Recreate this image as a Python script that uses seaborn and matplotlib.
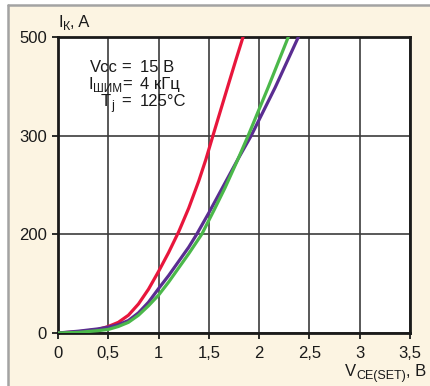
import matplotlib.pyplot as plt
import matplotlib.patches as mpatches
from matplotlib.lines import Line2D
import numpy as np
import pandas as pd
import seaborn as sns

sns.set_theme(style='white')
plt.rcParams['font.family'] = ['Liberation Sans Narrow', 'Liberation Sans', 'DejaVu Sans']

# curves: V_CE (V) and I_K (A)
v_red = [0.0, 0.2, 0.4, 0.5, 0.6, 0.7, 0.8, 0.9, 1.0, 1.1, 1.2, 1.3, 1.4, 1.47, 1.54, 1.62, 1.7, 1.77, 1.84]
i_red = [0, 2, 6, 11, 18, 30, 49, 74, 104, 136, 171, 211, 257, 293, 333, 378, 423, 462, 500]

v_purple = [0.0, 0.2, 0.4, 0.5, 0.6, 0.7, 0.8, 0.9, 1.0, 1.1, 1.2, 1.3, 1.38, 1.5, 1.65, 1.8, 1.92, 2.16, 2.39]
i_purple = [0, 3, 7, 10, 14, 21, 34, 52, 75, 97, 121, 145, 167, 203, 250, 297, 333, 415, 500]

v_green = [0.0, 0.2, 0.4, 0.5, 0.6, 0.7, 0.8, 0.9, 1.0, 1.1, 1.2, 1.3, 1.43, 1.55, 1.66, 1.78, 1.89, 2.09, 2.29]
i_green = [0, 1, 4, 6, 11, 18, 30, 46, 64, 86, 110, 134, 167, 207, 245, 290, 333, 415, 500]

curve_names = ['red', 'purple', 'green']
curve_colors = ['#E8163C', '#5A2D91', '#4BB84A']

x_ticks = [0, 0.5, 1, 1.5, 2, 2.5, 3, 3.5]
x_tick_labels = ['0', '0,5', '1', '1,5', '2', '2,5', '3', '3,5']
y_tick_labels = ['0', '200', '300', '500']

df = pd.concat([
    pd.DataFrame({'v': v_red, 'i': i_red, 'curve': 'red'}),
    pd.DataFrame({'v': v_purple, 'i': i_purple, 'curve': 'purple'}),
    pd.DataFrame({'v': v_green, 'i': i_green, 'curve': 'green'}),
], ignore_index=True)

W, H = 430, 386


def px(x, y):
    return x / W, 1 - y / H


fig = plt.figure(figsize=(W / 100, H / 100), dpi=100, facecolor='white')
fig.add_artist(mpatches.Rectangle(px(9, H), (W - 9) / W, (H - 6) / H,
                                  transform=fig.transFigure, facecolor='#FCF4E2',
                                  edgecolor='none', zorder=-10))
fig.add_artist(Line2D([px(8, 5)[0], 1], [px(8, 5)[1]] * 2, transform=fig.transFigure,
                      color='#A3A3A3', lw=1.8))
fig.add_artist(Line2D([px(8, 5)[0]] * 2, [px(8, 5)[1], 0], transform=fig.transFigure,
                      color='#A3A3A3', lw=1.8))

left, bottom = px(58, 333)
right, top = px(410, 37)
ax = fig.add_axes([left, bottom, right - left, top - bottom])
ax.set_facecolor('white')

sns.lineplot(data=df, x='v', y='i', hue='curve', hue_order=curve_names,
             palette=dict(zip(curve_names, curve_colors)), sort=False,
             estimator=None, lw=2.3, legend=False, ax=ax, zorder=3)

ax.set_xlim(0, 3.5)
ax.set_ylim(0, 500)
ax.set_xticks(x_ticks)
ax.set_xticklabels(x_tick_labels)
ax.set_yticks(np.linspace(0, 500, len(y_tick_labels)))
ax.set_yticklabels(y_tick_labels)
ax.set_xlabel('')
ax.set_ylabel('')
ax.grid(True, color='#3C3C3C', lw=1.2)
ax.set_axisbelow(True)
for s in ax.spines.values():
    s.set_color('#1A1A1A')
    s.set_linewidth(2)
ax.tick_params(axis='both', which='major', direction='out', length=4, width=1.3,
               color='#1A1A1A', labelsize=12, labelcolor='#1A1A1A', pad=4,
               left=True, bottom=True)
ax.tick_params(axis='x', pad=5)

tc = '#1A1A1A'
renderer = fig.canvas.get_renderer()


def chain(x0, yb, parts):
    # lay text pieces side by side: (text, fontsize, baseline shift in px)
    x = x0
    for txt, size, dy in parts:
        t = fig.text(*px(x, yb + dy), txt, fontsize=size, color=tc, va='baseline')
        x += t.get_window_extent(renderer).width


chain(58, 27, [('I', 12, 0), ('К', 9, 3), (', A', 12, 0)])
chain(345, 376, [('V', 12, 0), ('CE(SET)', 9, 3), (', B', 12, 0)])

chain(90, 72, [('Vcc', 12, 0)])
chain(88, 89, [('I', 12, 0), ('ШИМ', 8.5, 3)])
chain(101, 106, [('T', 12, 0), ('j', 9, 3)])
for yb, xe in [(72, 126), (89, 127), (106, 126)]:
    fig.text(*px(xe, yb), '=', fontsize=12, color=tc, ha='center', va='baseline')
for yb, val in zip([72, 89, 106], ['15 B', '4 кГц', '125°C']):
    fig.text(*px(140, yb), val, fontsize=12, color=tc, ha='left', va='baseline')

fig.savefig('out.png', dpi=100, facecolor=fig.get_facecolor())
